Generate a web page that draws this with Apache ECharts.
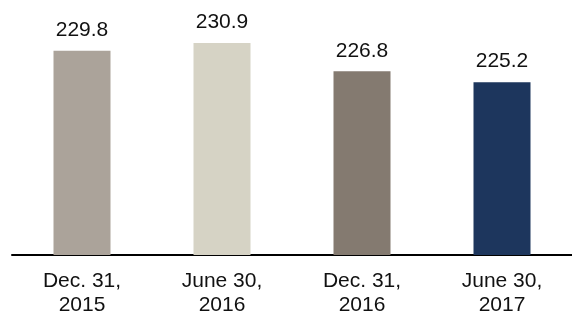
<!DOCTYPE html>
<html>
<head>
<meta charset="utf-8">
<script src="https://cdn.jsdelivr.net/npm/echarts@6/dist/echarts.min.js"></script>
<style>
  html, body { margin: 0; padding: 0; background: #fff; }
  #chart-container { width: 572px; height: 316px; }
</style>
</head>
<body>
<div id="chart-container"></div>
<script>
const categories = ['Dec. 31,\n2015', 'June 30,\n2016', 'Dec. 31,\n2016', 'June 30,\n2017'];
const values = [229.8, 230.9, 226.8, 225.2];
const barColors = ['#aba39a', '#d6d3c5', '#847a70', '#1d365d'];

const dom = document.getElementById('chart-container');
const myChart = echarts.init(dom, null, { renderer: 'canvas' });

const option = {
    animation: false,
    grid: { left: 12, right: 0, top: 15, bottom: 61, outerBoundsMode: 'none', containLabel: false },
    xAxis: {
        type: 'category',
        data: categories,
        axisLine: { show: true, lineStyle: { color: '#000', width: 2 } },
        axisTick: { show: false },
        axisLabel: {
            color: '#111',
            fontFamily: 'Liberation Sans, Arial, sans-serif',
            fontSize: 21,
            lineHeight: 24,
            margin: 14,
            interval: 0
        }
    },
    yAxis: {
        type: 'value',
        min: 200,
        max: 235,
        show: false,
        splitLine: { show: false }
    },
    series: [
        {
            type: 'bar',
            barWidth: 57,
            data: values.map((v, i) => ({ value: v, itemStyle: { color: barColors[i] } })),
            label: {
                show: true,
                position: 'top',
                distance: 10,
                color: '#111',
                fontFamily: 'Liberation Sans, Arial, sans-serif',
                fontSize: 21,
                formatter: p => p.value.toFixed(1)
            }
        }
    ]
};

myChart.setOption(option, true);
</script>
</body>
</html>
